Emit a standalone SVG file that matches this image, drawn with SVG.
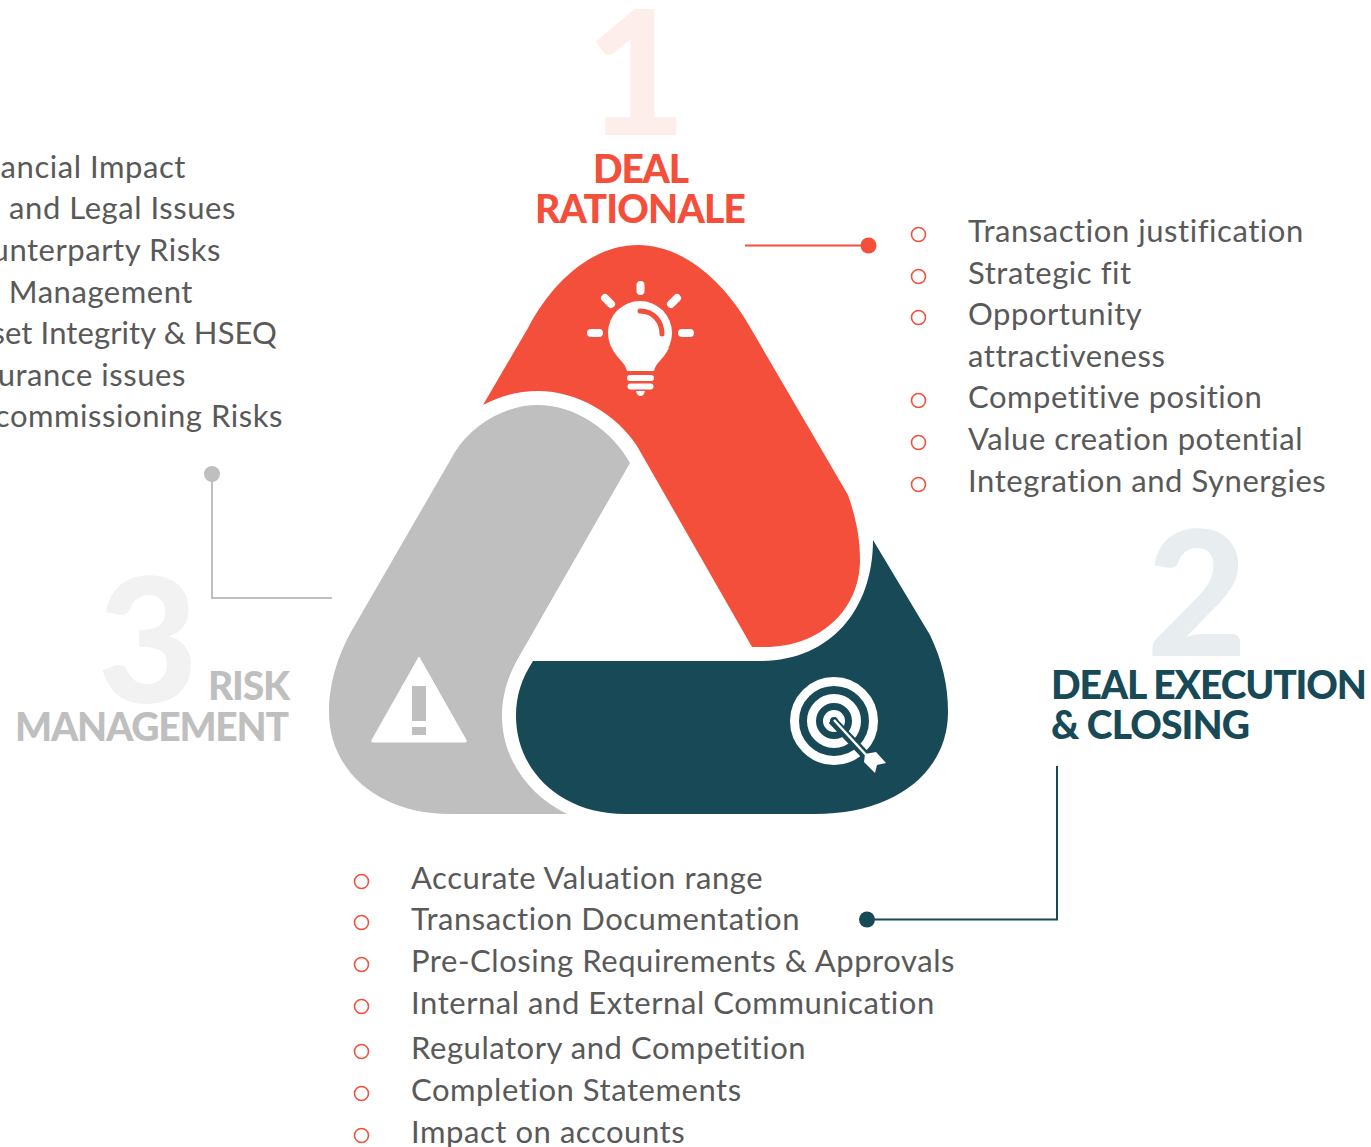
<svg xmlns="http://www.w3.org/2000/svg" width="1371" height="1147" viewBox="0 0 1371 1147">
<style>
.b{font-family:"Lato","Carlito","Liberation Sans",sans-serif;font-size:31px;fill:#595959;letter-spacing:.55px}
.h{font-family:"Lato","Liberation Sans",sans-serif;font-weight:900;font-size:39px}
.n{font-family:"Lato","Liberation Sans",sans-serif;font-weight:900;font-size:174px}
.d{fill:none;stroke:#f34f3a;stroke-width:1.6}
.e{text-anchor:end}
</style>
<rect width="1371" height="1147" fill="#fff"/>
<g id="connectors">
<path d="M745 245.500H868" stroke="#f34f3a" stroke-width="2" fill="none"/><circle cx="868.500" cy="245.500" r="8" fill="#f34f3a"/>
<path d="M1057 766V919.500H867" stroke="#174957" stroke-width="2" fill="none"/><circle cx="867" cy="919.500" r="8" fill="#174957"/>
<path d="M212 474V598H332" stroke="#bfbfbf" stroke-width="2" fill="none"/><circle cx="212" cy="474" r="8" fill="#bfbfbf"/>
</g>
<g id="node-deal-rationale">
<text class="n" x="636" y="135" text-anchor="middle" fill="#fdeeec">1</text>
<text class="h" x="641" y="182.500" text-anchor="middle" fill="#f34f3a" textLength="96" lengthAdjust="spacing">DEAL</text>
<text class="h" x="640.500" y="222.500" text-anchor="middle" fill="#f34f3a" textLength="211" lengthAdjust="spacing">RATIONALE</text>
<path d="M483 405L528 328C552 282 592 245 638 245C682 245 722 280 747 322L848 495C856 518 860 538 860 560C860 610 820 647 765 647H752L637 446C617 415 578 391 538 391C518 391 500 396 483 405Z" fill="#f34f3a"/>
<g fill="#fff">
<circle cx="640" cy="333" r="32"/>
<path d="M612 348C618 360 625 362 627 371H654C656 362 663 360 669 348Z"/>
<rect x="627" y="375" width="27" height="6" rx="3"/><rect x="627.500" y="383.500" width="26" height="6" rx="3"/>
<path d="M636 391H645Q644 396 640.500 396Q637 396 636 391Z"/>
</g>
<path d="M640 311C654 311 662 322 662 334" fill="none" stroke="#f34f3a" stroke-width="5" stroke-linecap="round"/>
<g stroke="#fff" stroke-width="8" stroke-linecap="round">
<path d="M640.500 285V291M605 298L611 304M677 298L671 304M591 333H599M682 333H690"/>
</g>
</g>
<g id="node-deal-execution">
<text class="n" x="1197" y="656" text-anchor="middle" fill="#e8edef">2</text>
<text class="h" x="1051" y="698.500" fill="#174957" textLength="316" lengthAdjust="spacing">DEAL EXECUTION</text>
<text class="h" x="1051" y="738.500" fill="#174957" textLength="199" lengthAdjust="spacing">&amp; CLOSING</text>
<path d="M873 540L930 635C942 660 948 685 948 712C948 772 895 814 815 814H625C560 814 516 770 516 716C516 695 522 678 533 661H760C830 661 873 610 873 540Z" fill="#174957"/>
<g fill="none" stroke="#fff">
<circle cx="834" cy="721" r="39.500" stroke-width="9"/>
<circle cx="834" cy="721" r="22.500" stroke-width="9"/>
<circle cx="834" cy="721" r="7.500" stroke-width="7"/>
</g>
<path d="M832 720L872 762" stroke="#174957" stroke-width="9" fill="none"/>
<path d="M834 720L868 757" stroke="#fff" stroke-width="2.500" fill="none"/>
<path d="M865 754L876 752L886 763L877 765L875 773L864 762Z" fill="#fff"/>
</g>
<g id="node-risk-management">
<text class="n" x="148" y="703" text-anchor="middle" fill="#f2f2f2">3</text>
<text class="h" x="208" y="699.500" fill="#bfbfbf" textLength="82" lengthAdjust="spacing">RISK</text>
<text class="h" x="15" y="740.500" fill="#bfbfbf" textLength="274" lengthAdjust="spacing">MANAGEMENT</text>
<path d="M630 463L520 655C508 675 502 695 502 716C502 758 528 795 567 814H450C380 814 329 772 329 712C329 680 340 650 355 625L455 452C472 425 505 405 538 405C575 405 612 430 630 463Z" fill="#bfbfbf"/>
<path d="M419 657L466 740Q467 742 465 742H373Q371 742 372 740Z" fill="#fff" stroke="#fff" stroke-width="1" stroke-linejoin="round"/>
<path d="M412 686H426V721H412ZM412 727H426V735H412Z" fill="#bfbfbf"/>
</g>
<g id="list-rationale">
<text class="b" x="968" y="242">Transaction justification</text>
<text class="b" x="968" y="284">Strategic fit</text>
<text class="b" x="968" y="325">Opportunity</text>
<text class="b" x="968" y="367">attractiveness</text>
<text class="b" x="968" y="408">Competitive position</text>
<text class="b" x="968" y="450">Value creation potential</text>
<text class="b" x="968" y="492">Integration and Synergies</text>
<g class="d"><circle cx="918.500" cy="234.500" r="7"/><circle cx="918.500" cy="276.500" r="7"/><circle cx="918.500" cy="317.500" r="7"/><circle cx="918.500" cy="400.500" r="7"/><circle cx="918.500" cy="442.500" r="7"/><circle cx="918.500" cy="484.500" r="7"/></g>
</g>
<g id="list-execution">
<text class="b" x="411" y="889">Accurate Valuation range</text>
<text class="b" x="411" y="930">Transaction Documentation</text>
<text class="b" x="411" y="972">Pre-Closing Requirements &amp; Approvals</text>
<text class="b" x="411" y="1014">Internal and External Communication</text>
<text class="b" x="411" y="1059">Regulatory and Competition</text>
<text class="b" x="411" y="1101">Completion Statements</text>
<text class="b" x="411" y="1143">Impact on accounts</text>
<g class="d"><circle cx="361.500" cy="881.500" r="7"/><circle cx="361.500" cy="922.500" r="7"/><circle cx="361.500" cy="964.500" r="7"/><circle cx="361.500" cy="1006.500" r="7"/><circle cx="361.500" cy="1051.500" r="7"/><circle cx="361.500" cy="1093.500" r="7"/><circle cx="361.500" cy="1135.500" r="7"/></g>
</g>
<g id="list-risk">
<text class="b e" x="186" y="178">ancial Impact</text>
<text class="b e" x="236" y="219">x and Legal Issues</text>
<text class="b e" x="221" y="261">unterparty Risks</text>
<text class="b e" x="193" y="303">Management</text>
<text class="b e" x="277" y="344" style="letter-spacing:.1px">set Integrity &amp; HSEQ</text>
<text class="b e" x="186" y="386">urance issues</text>
<text class="b e" x="283" y="427">commissioning Risks</text>
</g>
</svg>
